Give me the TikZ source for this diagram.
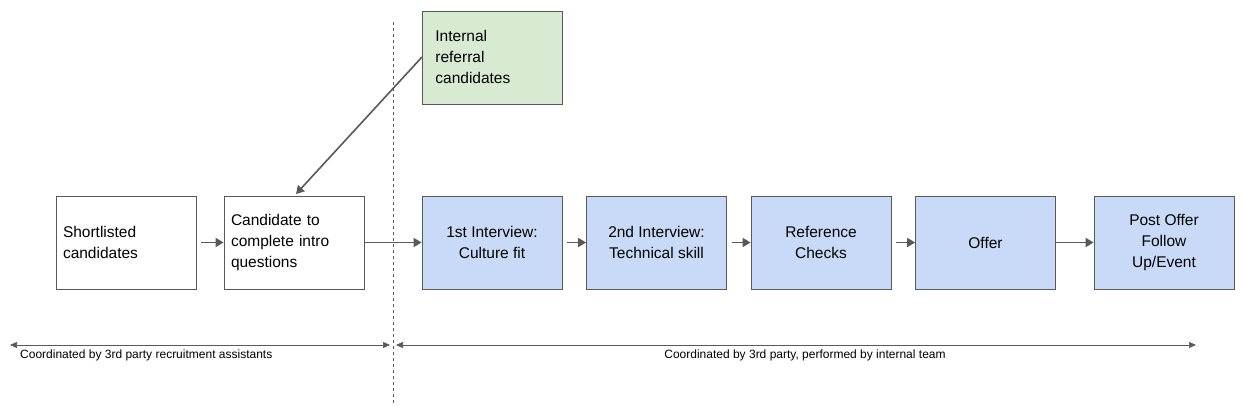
\documentclass[tikz,border=0pt]{standalone}
\usepackage{fontspec}
\setmainfont{Liberation Sans}
\usetikzlibrary{arrows.meta}
\definecolor{edge}{HTML}{595959}
\definecolor{blu}{HTML}{C9DAF8}
\definecolor{grn}{HTML}{D9EAD3}
\begin{document}
\begin{tikzpicture}[x=1pt,y=-1pt,
  box/.style={draw=edge,line width=0.8pt,minimum width=140pt,minimum height=93pt,inner sep=0pt,font=\fontsize{15.5}{21}\selectfont},
  bl/.style={box,fill=blu,align=center},
  lt/.style={box,fill=white,align=left,text width=126pt},
  arr/.style={draw=edge,line width=1.6pt,-{Triangle[length=8pt,width=9pt]}},
  span/.style={draw=edge,line width=0.7pt,{Triangle[length=7pt,width=6pt]}-{Triangle[length=7pt,width=6pt]}},
  lab/.style={font=\fontsize{12}{14}\selectfont,inner sep=0pt}]
\useasboundingbox (0,0) rectangle (1244,406);
\node[lt] (s) at (126,242.5) {Shortlisted\\candidates};
\node[lt] (c) at (294,242.5) {Candidate to\\complete intro\\questions};
\node[bl] (i1) at (492,242.5) {1st Interview:\\Culture fit};
\node[bl] (i2) at (656.5,242.5) {2nd Interview:\\Technical skill};
\node[bl] (r) at (821,242.5) {Reference\\Checks};
\node[bl] (o) at (985.5,242.5) {Offer};
\node[bl] (p) at (1164,242.5) {Post Offer\\Follow\\Up/Event};
\node[lt,fill=grn,anchor=north west] (ir) at (422,11) {\strut\hspace{6pt}\begin{tabular}{@{}l@{}}Internal\\referral\\candidates\end{tabular}\par\vspace{14pt}};
\draw[arr] (s.east) ++(5,0) -- (c.west);
\draw[arr] (c.east) -- (i1.west);
\draw[arr] (i1.east) ++(5,0) -- (i2.west);
\draw[arr] (i2.east) ++(5,0) -- (r.west);
\draw[arr] (r.east) ++(5,0) -- (o.west);
\draw[arr] (o.east) -- (p.west);
\draw[arr] (ir.west |- 0,57) -- (296,194);
\coordinate (d1) at (393,22);
\coordinate (d2) at (393,406);
\draw[edge,dashed,line width=0.7pt] (d1) -- (d2);
\coordinate (a1) at (10,345); \coordinate (a2) at (390,345);
\coordinate (b1) at (396,345); \coordinate (b2) at (1196,345);
\draw[span] (a1) -- (a2);
\draw[span] (b1) -- (b2);
\node[lab,anchor=west] (l1) at (20,355) {Coordinated by 3rd party recruitment assistants};
\node[lab] (l2) at (805,355) {Coordinated by 3rd party, performed by internal team};
\end{tikzpicture}
\end{document}
